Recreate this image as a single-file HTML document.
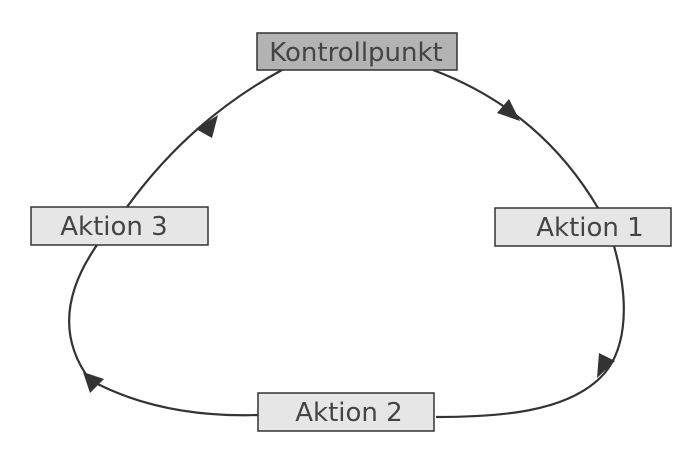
<!DOCTYPE html>
<html><head><style>
body{margin:0;background:#fff;width:700px;height:452px;overflow:hidden}
</style></head><body>
<svg width="700" height="452" xmlns="http://www.w3.org/2000/svg">
<g fill="none" stroke="#333" stroke-width="2.2">
<path d="M433,70 Q540,110 598,208"/>
<path d="M614,246 C632,310 624,355 600,378 C565,412 500,417 436,417"/>
<path d="M258,415 Q160,418 90,380 Q45,320 97,245"/>
<path d="M127,207 Q190,120 282,70"/>
</g>
<g fill="#333">
<polygon points="520,121 497,113 509,99"/>
<polygon points="597,378 599,353 615,361"/>
<polygon points="83,372 104,379 90,393"/>
<polygon points="218,115 196,129 212,138"/>
</g>
<g stroke="#333" stroke-width="1.5">
<rect x="257" y="33" width="200" height="37" fill="#b3b3b3"/>
<rect x="31" y="207" width="177" height="38" fill="#e6e6e6"/>
<rect x="495" y="208" width="176" height="38" fill="#e6e6e6"/>
<rect x="258" y="393" width="176" height="38" fill="#e6e6e6"/>
</g>
<g font-family="DejaVu Sans, sans-serif" font-size="26" fill="#444" text-anchor="middle">
<text x="356" y="61">Kontrollpunkt</text>
<text x="114" y="235">Aktion 3</text>
<text x="590" y="236">Aktion 1</text>
<text x="349" y="421">Aktion 2</text>
</g>
</svg>
</body></html>
